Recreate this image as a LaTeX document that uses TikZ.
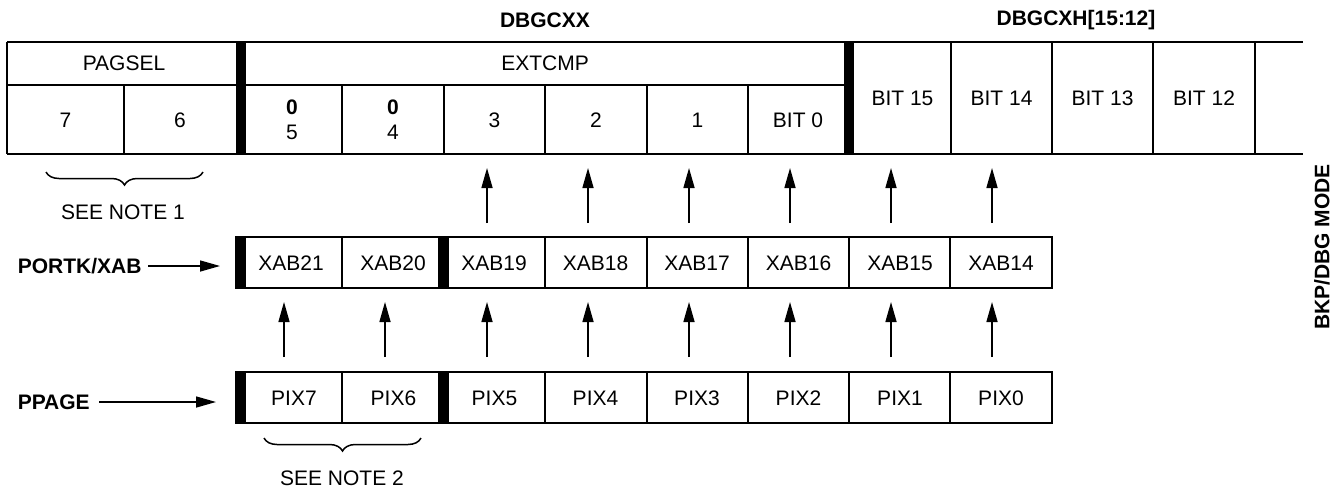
\documentclass[tikz,border=0pt]{standalone}
\usepackage{fontspec}
\setmainfont{Liberation Sans}
\usetikzlibrary{arrows.meta,decorations.pathreplacing}
\begin{document}
\begin{tikzpicture}[x=1pt,y=-1pt,line width=1.5pt,
  txt/.style={inner sep=0pt,font=\fontsize{21}{24}\selectfont},
  btxt/.style={inner sep=0pt,font=\fontsize{21}{24}\selectfont\bfseries},
  bar/.style={fill=black,draw=none},
  arr/.style={-{Triangle[length=20pt,width=11pt]},line width=1.5pt},
  brc/.style={decorate,decoration={brace,mirror,amplitude=13pt},line width=1.5pt}]
\useasboundingbox (0,0) rectangle (1338,488);

% ---------- titles ----------
\node[btxt] (dbgcxx) at (545,20) {DBGCXX};
\node[btxt] (dbgcxh) at (1076,20) {DBGCXH[15:12]};
\node[btxt,rotate=90] (mode) at (1322,247) {BKP/DBG MODE};

% ---------- top register ----------
\draw (7,42) -- (1303,42);
\draw (7,154) -- (1303,154);
\draw (7,85) -- (236,85);
\draw (246,85) -- (844,85);
\foreach \x in {7,1255} \draw (\x,42) -- (\x,154);
\foreach \x in {124,342,444,545,647,748} \draw (\x,85) -- (\x,154);
\foreach \x in {951,1052,1153} \draw (\x,42) -- (\x,154);
\fill[bar] (236,42) rectangle (246,154);
\fill[bar] (844,42) rectangle (854,154);

\node[txt] (pagsel) at (124,63) {PAGSEL};
\node[txt] (extcmp) at (545,63) {EXTCMP};
\node[txt] (b7) at (65.5,120) {7};
\node[txt] (b6) at (180,120) {6};
\node[btxt] (z5) at (292,107) {0};
\node[txt] (b5) at (292,132) {5};
\node[btxt] (z4) at (393,107) {0};
\node[txt] (b4) at (393,132) {4};
\node[txt] (b3) at (494.5,120) {3};
\node[txt] (b2) at (596,120) {2};
\node[txt] (b1) at (697.5,120) {1};
\node[txt] (b0) at (798,120) {BIT 0};
\node[txt] (b15) at (902.5,98.5) {BIT 15};
\node[txt] (b14) at (1001.5,98.5) {BIT 14};
\node[txt] (b13) at (1102.5,98.5) {BIT 13};
\node[txt] (b12) at (1204,98.5) {BIT 12};

% ---------- PORTK/XAB register ----------
\draw (236,237) rectangle (1052,288);
\foreach \x in {342,545,647,748,849,950} \draw (\x,237) -- (\x,288);
\fill[bar] (236,237) rectangle (246,288);
\fill[bar] (438,237) rectangle (449,288);
\foreach \n/\x in {21/291,20/393,19/494,18/595.5,17/697,16/798.5,15/900,14/1001}
  \node[txt] (xab\n) at (\x,263) {XAB\n};

% ---------- PPAGE register ----------
\draw (236,372) rectangle (1052,423);
\foreach \x in {342,545,647,748,849,950} \draw (\x,372) -- (\x,423);
\fill[bar] (236,372) rectangle (246,423);
\fill[bar] (438,372) rectangle (449,423);
\foreach \n/\x in {7/294,6/393.5,5/494.5,4/595.5,3/697,2/798.5,1/900,0/1001}
  \node[txt] (pix\n) at (\x,398) {PIX\n};

% ---------- side labels ----------
\node[btxt,anchor=west] (portk) at (17,266) {PORTK/XAB};
\node[btxt,anchor=west] (ppage) at (17,402) {PPAGE};
\coordinate (portkin) at (220,266);
\coordinate (ppagein) at (216,402);
\draw[arr] ([xshift=6pt]portk.east) -- (portkin);
\draw[arr] ([xshift=9pt]ppage.east) -- (ppagein);

% ---------- vertical arrows ----------
\foreach \i/\x in {1/487,2/588,3/689,4/790,5/891,6/992} {
  \coordinate (ua\i) at (\x,223);
  \coordinate (ub\i) at (\x,168);
  \draw[arr] (ua\i) -- (ub\i);
}
\foreach \i/\x in {1/284,2/385,3/487,4/588,5/689,6/790,7/891,8/992} {
  \coordinate (la\i) at (\x,357);
  \coordinate (lb\i) at (\x,302);
  \draw[arr] (la\i) -- (lb\i);
}

% ---------- braces ----------
\coordinate (br1a) at (46,172);
\coordinate (br1b) at (203,172);
\draw[brc] (br1a) -- (br1b);
\node[txt] (note1) at (123,212) {SEE NOTE 1};
\coordinate (br2a) at (264,438);
\coordinate (br2b) at (421,438);
\draw[brc] (br2a) -- (br2b);
\node[txt] (note2) at (342,478) {SEE NOTE 2};
\end{tikzpicture}
\end{document}
